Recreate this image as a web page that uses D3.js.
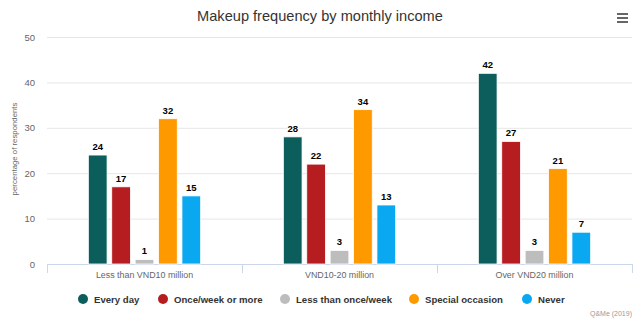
<!DOCTYPE html>
<html><head><meta charset="utf-8">
<script src="https://cdn.jsdelivr.net/npm/d3@7"></script>
<style>body{margin:0;background:#fff}svg{display:block;font-family:"Liberation Sans",Arial,sans-serif}</style>
</head><body><svg id="c" width="640" height="322"></svg>
<script>
const categories = ["Less than VND10 million", "VND10-20 million", "Over VND20 million"];
const seriesNames = ["Every day", "Once/week or more", "Less than once/week", "Special occasion", "Never"];
const everyDay = [24, 28, 42];
const oncePerWeek = [17, 22, 27];
const lessThanOnce = [1, 3, 3];
const specialOccasion = [32, 34, 21];
const never = [15, 13, 7];
const yTicks = [0, 10, 20, 30, 40, 50];
const colors = ["#0b5e5b", "#b51d21", "#bdbdbd", "#ff9900", "#0aa8f0"];
const seriesValues = [everyDay, oncePerWeek, lessThanOnce, specialOccasion, never];

(function () {
const svg = d3.select("#c");
const pLeft = 47, pRight = 632, pTop = 37, pBottom = 264;
const x = d3.scaleBand().domain(categories).range([pLeft, pRight]).paddingInner(0).paddingOuter(0);
// Highcharts-like: groupPadding 0.2, pointPadding 0.1
const groupPad = 0.2 * x.bandwidth();
const slot = (x.bandwidth() - 2 * groupPad) / seriesNames.length;
const y = d3.scaleLinear().domain([0, 50]).range([pBottom, pTop]);

// title
svg.append("text").attr("x", 320).attr("y", 21).attr("text-anchor", "middle")
  .attr("font-size", 14.6).attr("fill", "#333").text("Makeup frequency by monthly income");
// menu icon
[0, 4, 8].forEach(d => svg.append("rect").attr("x", 617).attr("y", 13 + d).attr("width", 11).attr("height", 2).attr("fill", "#666"));

// grid
svg.append("g").selectAll("line").data(yTicks.filter(d => d > 0)).join("line")
  .attr("x1", pLeft).attr("x2", pRight).attr("y1", d => y(d) + 0.5).attr("y2", d => y(d) + 0.5)
  .attr("stroke", "#e6e6e6");
// y labels
svg.append("g").selectAll("text").data(yTicks).join("text")
  .attr("x", 35).attr("y", d => y(d) + 3.5).attr("text-anchor", "end")
  .attr("font-size", 9.5).attr("fill", "#666").text(d => d);
svg.append("text").attr("transform", `translate(17,149) rotate(-90)`)
  .attr("text-anchor", "middle").attr("font-size", 7.8).attr("fill", "#666").text("percentage of respondents");

// x axis
const xa = svg.append("g").attr("transform", `translate(0,${pBottom})`)
  .call(d3.axisBottom(x).tickSize(0).tickPadding(8));
xa.select(".domain").attr("stroke", "#ccd6eb").attr("d", `M${pLeft},0.5H${pRight}`);
xa.selectAll("text").attr("font-size", 8.9).attr("fill", "#666").attr("font-family", "Liberation Sans, Arial, sans-serif");
const dividers = categories.map(c => x(c)).concat([pRight]);
svg.append("g").selectAll("line").data(dividers).join("line")
  .attr("x1", d => d + 0.5).attr("x2", d => d + 0.5).attr("y1", pBottom).attr("y2", pBottom + 9)
  .attr("stroke", "#ccd6eb");

// bars
const barW = slot * 0.8;
seriesValues.forEach((vals, si) => {
  const g = svg.append("g");
  const bx = (c) => x(c) + groupPad + si * slot + (slot - barW) / 2;
  g.selectAll("rect").data(categories).join("rect")
    .attr("x", c => bx(c)).attr("width", barW)
    .attr("y", (c, i) => y(vals[i])).attr("height", (c, i) => y(0) - y(vals[i]))
    .attr("fill", colors[si]).attr("stroke", "#fff").attr("stroke-width", 0.8);
  g.selectAll("text").data(categories).join("text")
    .attr("x", c => bx(c) + barW / 2).attr("y", (c, i) => y(vals[i]) - 5)
    .attr("text-anchor", "middle").attr("font-size", 9.5).attr("font-weight", "bold")
    .attr("fill", "#000").attr("stroke", "#fff").attr("stroke-width", 2).attr("paint-order", "stroke")
    .text((c, i) => vals[i]);
});

// legend
const legX = [83, 163, 285, 414, 527];
const lg = svg.append("g");
seriesNames.forEach((n, i) => {
  lg.append("circle").attr("cx", legX[i]).attr("cy", 299).attr("r", 5).attr("fill", colors[i]);
  lg.append("text").attr("x", legX[i] + 11).attr("y", 302.5).attr("font-size", 9.6).attr("font-weight", "bold")
    .attr("fill", "#333").text(n);
});
svg.append("text").attr("x", 632).attr("y", 316).attr("text-anchor", "end").attr("font-size", 7)
  .attr("fill", "#999").text("Q&Me (2019)");
})();
</script></body></html>
